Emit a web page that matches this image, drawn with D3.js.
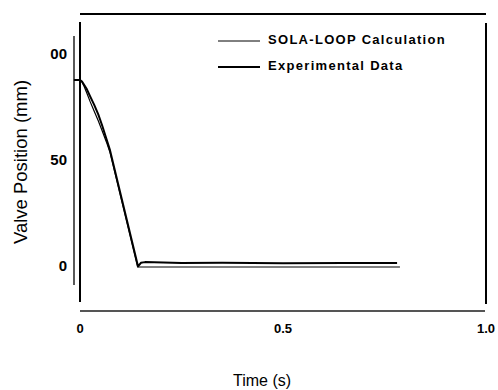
<!DOCTYPE html>
<html>
<head>
<meta charset="utf-8">
<script src="https://cdn.jsdelivr.net/npm/d3@7"></script>
<style>
  body { margin: 0; background: #fff; }
  text { font-family: "Liberation Sans", Arial, sans-serif; }
</style>
</head>
<body>
<div id="chart"></div>
<script>
const width = 498;
const height = 390;

// valve closure
const calcTime = [0, 0.005, 0.01, 0.017, 0.025, 0.035, 0.045, 0.055, 0.065, 0.074, 0.142, 0.2, 0.4, 0.6, 0.788];
const calcPos = [88.2, 87.2, 85.3, 82, 78, 73.5, 69, 64, 59, 54, 0, 0, 0, 0, 0];

const expTime = [-0.015, 0, 0.005, 0.01, 0.017, 0.025, 0.035, 0.045, 0.055, 0.065, 0.074, 0.143, 0.15, 0.16, 0.25, 0.35, 0.5, 0.65, 0.781];
const expPos = [88.2, 88.2, 87.5, 86, 83.8, 80.5, 76.5, 72, 66.5, 60.5, 55, 0.3, 2.0, 2.3, 1.9, 2.0, 1.8, 1.9, 1.9];

const xTicks = [0, 0.5, 1.0];
const xTickLabels = ["0", "0.5", "1.0"];
const yTicks = [0, 50, 100];
const yTickLabels = ["0", "50", "00"];

const legendNames = ["SOLA-LOOP Calculation", "Experimental Data"];

const x = d3.scaleLinear().domain([0, 1]).range([80, 486]);
const y = d3.scaleLinear().domain([0, 100]).range([267, 55]);

const svg = d3.select("#chart").append("svg")
  .attr("width", width)
  .attr("height", height);

// frame lines (scanned figure, not a closed box)
svg.append("line").attr("x1", 80).attr("x2", 486).attr("y1", 14).attr("y2", 14)
  .attr("stroke", "#000").attr("stroke-width", 2);
svg.append("line").attr("x1", 80).attr("x2", 80).attr("y1", 22).attr("y2", 302)
  .attr("stroke", "#000").attr("stroke-width", 2);
svg.append("line").attr("x1", 74).attr("x2", 74).attr("y1", 36).attr("y2", 285)
  .attr("stroke", "#000").attr("stroke-width", 1.3);
svg.append("line").attr("x1", 486).attr("x2", 486).attr("y1", 23).attr("y2", 304)
  .attr("stroke", "#000").attr("stroke-width", 2);
svg.append("line").attr("x1", 80).attr("x2", 485).attr("y1", 311).attr("y2", 311)
  .attr("stroke", "#555").attr("stroke-width", 2);

// tick labels
svg.append("g").selectAll("text").data(yTicks).enter().append("text")
  .attr("x", 67)
  .attr("y", d => y(d))
  .attr("text-anchor", "end")
  .attr("dominant-baseline", "middle")
  .style("font-size", "15px")
  .style("font-weight", "bold")
  .text((d, i) => yTickLabels[i]);

svg.append("g").selectAll("text").data(xTicks).enter().append("text")
  .attr("x", d => x(d))
  .attr("y", 330)
  .attr("text-anchor", "middle")
  .attr("dominant-baseline", "middle")
  .style("font-size", "13px")
  .style("font-weight", "bold")
  .text((d, i) => xTickLabels[i]);

// axis titles
svg.append("text")
  .attr("transform", "translate(22,162) rotate(-90)")
  .attr("text-anchor", "middle")
  .attr("dominant-baseline", "middle")
  .style("font-size", "18.5px")
  .text("Valve Position (mm)");

svg.append("text")
  .attr("x", 262)
  .attr("y", 382)
  .attr("text-anchor", "middle")
  .attr("dominant-baseline", "middle")
  .style("font-size", "16px")
  .text("Time   (s)");

// curves
const line = d3.line();

svg.append("path")
  .datum(calcTime.map((t, i) => [x(t), y(calcPos[i])]))
  .attr("d", line)
  .attr("fill", "none")
  .attr("stroke", "#000")
  .attr("stroke-width", 1.2)
  .attr("stroke-linejoin", "round");

svg.append("path")
  .datum(expTime.map((t, i) => [x(t), y(expPos[i])]))
  .attr("d", line)
  .attr("fill", "none")
  .attr("stroke", "#000")
  .attr("stroke-width", 2)
  .attr("stroke-linejoin", "round");

// legend
const legend = svg.append("g");
legendNames.forEach((name, i) => {
  const ly = i === 0 ? 41 : 67;
  legend.append("line")
    .attr("x1", 218).attr("x2", 260).attr("y1", ly).attr("y2", ly)
    .attr("stroke", "#000").attr("stroke-width", i === 0 ? 1 : 2);
  legend.append("text")
    .attr("x", 268).attr("y", ly)
    .attr("dominant-baseline", "middle")
    .style("font-size", "13px")
    .style("font-weight", "bold")
    .style("letter-spacing", "1.3px")
    .text(name);
});
</script>
</body>
</html>
